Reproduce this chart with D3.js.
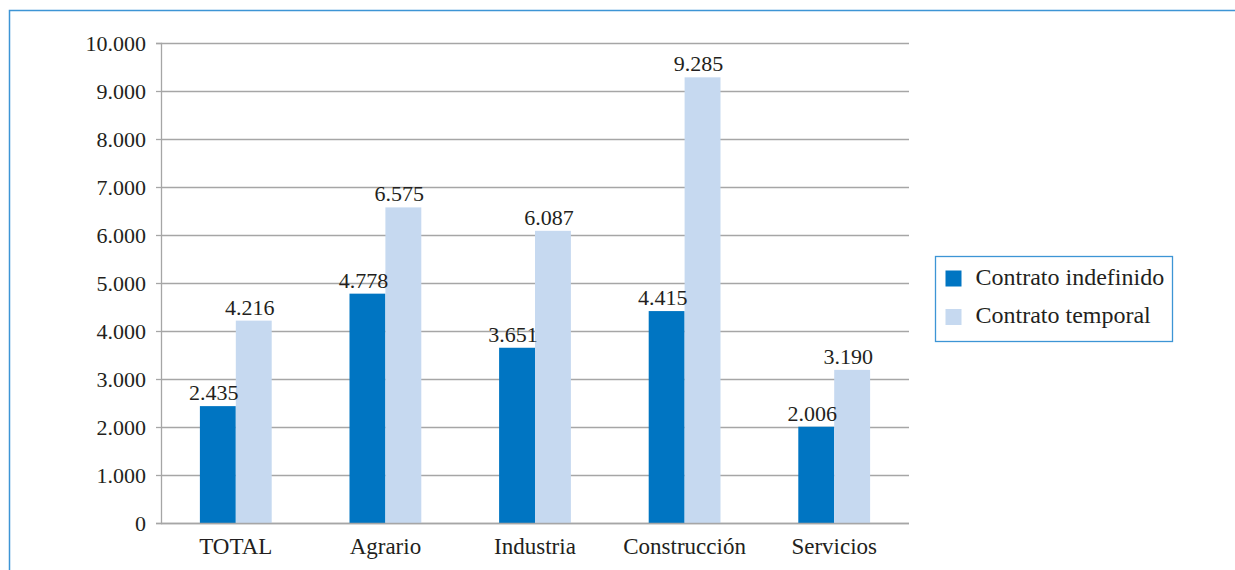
<!DOCTYPE html>
<html>
<head>
<meta charset="utf-8">
<script src="https://cdn.jsdelivr.net/npm/d3@7"></script>
<style>
  body { margin: 0; background: #fff; }
  svg { display: block; }
</style>
</head>
<body>
<div id="vis"></div>
<script>
const FRAME_WIDTH = 1235;
const FRAME_HEIGHT = 570;
const MARGINS = {left: 161, right: 326, top: 43, bottom: 47};
const FONT = 'Liberation Serif';
const TEXT_COLOR = '#231f20';

const categories = ['TOTAL', 'Agrario', 'Industria', 'Construcción', 'Servicios'];
const seriesNames = ['Contrato indefinido', 'Contrato temporal'];
const indefinido = [2435, 4778, 3651, 4415, 2006];
const temporal = [4216, 6575, 6087, 9285, 3190];
const yTicks = [0, 1000, 2000, 3000, 4000, 5000, 6000, 7000, 8000, 9000, 10000];

const COLORS = ['#0075c2', '#c6d9f0'];

const VIS_WIDTH = FRAME_WIDTH - MARGINS.left - MARGINS.right;
const VIS_HEIGHT = FRAME_HEIGHT - MARGINS.top - MARGINS.bottom;

const locale = d3.formatLocale({decimal: ',', thousands: '.', grouping: [3], currency: ['', '€']});
const fmt = locale.format(',d');

const rows = categories.map((c, i) => ({cat: c, vals: [indefinido[i], temporal[i]]}));

const svg = d3.select('#vis')
  .append('svg')
    .attr('width', FRAME_WIDTH)
    .attr('height', FRAME_HEIGHT)
    .attr('font-family', FONT);

// outer blue frame (only top and left visible)
svg.append('path')
  .attr('d', 'M9.5,' + FRAME_HEIGHT + ' V10.5 H' + FRAME_WIDTH)
  .attr('fill', 'none')
  .attr('stroke', '#3d95d5')
  .attr('stroke-width', 1.5);

const X = d3.scaleBand()
  .domain(categories)
  .range([0, VIS_WIDTH])
  .paddingInner(0.52)
  .paddingOuter(0.26);

const X_SUB = d3.scaleBand()
  .domain([0, 1])
  .range([0, X.bandwidth()]);

const Y = d3.scaleLinear()
  .domain([0, 10000])
  .range([VIS_HEIGHT, 0]);

const g = svg.append('g')
  .attr('transform', 'translate(' + MARGINS.left + ',' + MARGINS.top + ')');

// gridlines
g.append('g')
  .selectAll('line')
  .data(yTicks)
  .enter()
  .append('line')
    .attr('x1', 0)
    .attr('x2', VIS_WIDTH)
    .attr('y1', d => Math.round(Y(d)) + 0.5)
    .attr('y2', d => Math.round(Y(d)) + 0.5)
    .attr('stroke', '#a6a6a6')
    .attr('stroke-width', 1.3);

// y axis
const yAxis = g.append('g')
  .call(d3.axisLeft(Y).tickValues(yTicks).tickSize(5).tickPadding(10).tickFormat(fmt))
  .attr('font-family', FONT)
  .attr('font-size', 22);
yAxis.select('.domain').attr('stroke', '#a6a6a6').attr('stroke-width', 1.3);
yAxis.selectAll('.tick line').attr('stroke', '#a6a6a6').attr('stroke-width', 1.3);
yAxis.selectAll('text')
  .attr('font-family', FONT)
  .attr('font-size', 22)
  .attr('fill', TEXT_COLOR);

// bars
const groups = g.selectAll('.cat')
  .data(rows)
  .enter()
  .append('g')
    .attr('transform', d => 'translate(' + X(d.cat) + ',0)');

groups.selectAll('rect')
  .data(d => d.vals)
  .enter()
  .append('rect')
    .attr('x', (d, i) => X_SUB(i))
    .attr('y', d => Y(d))
    .attr('width', X_SUB.bandwidth())
    .attr('height', d => VIS_HEIGHT - Y(d))
    .attr('fill', (d, i) => COLORS[i]);

groups.selectAll('text')
  .data(d => d.vals)
  .enter()
  .append('text')
    .attr('x', (d, i) => X_SUB(i) + X_SUB.bandwidth() / 2 - 4)
    .attr('y', d => Y(d) - 6)
    .attr('text-anchor', 'middle')
    .attr('font-family', FONT)
    .attr('font-size', 22)
    .attr('fill', TEXT_COLOR)
    .text(d => fmt(d));

// x axis baseline
g.append('line')
  .attr('x1', 0)
  .attr('x2', VIS_WIDTH)
  .attr('y1', VIS_HEIGHT + 0.5)
  .attr('y2', VIS_HEIGHT + 0.5)
  .attr('stroke', '#a6a6a6')
  .attr('stroke-width', 1.3);

// category labels
g.selectAll('.catlabel')
  .data(categories)
  .enter()
  .append('text')
    .attr('x', d => X(d) + X.bandwidth() / 2)
    .attr('y', VIS_HEIGHT + 31)
    .attr('text-anchor', 'middle')
    .attr('font-family', FONT)
    .attr('font-size', 23)
    .attr('fill', TEXT_COLOR)
    .text(d => d);

// legend
const legend = svg.append('g')
  .attr('transform', 'translate(935.5,256.5)');

legend.append('rect')
  .attr('width', 237)
  .attr('height', 85)
  .attr('fill', '#fff')
  .attr('stroke', '#3d95d5')
  .attr('stroke-width', 1.3);

const items = legend.selectAll('.item')
  .data(seriesNames)
  .enter()
  .append('g')
    .attr('transform', (d, i) => 'translate(10,' + (14 + i * 38.5) + ')');

items.append('rect')
  .attr('width', 16)
  .attr('height', 16)
  .attr('fill', (d, i) => COLORS[i]);

items.append('text')
  .attr('x', 30)
  .attr('y', 14)
  .attr('font-family', FONT)
  .attr('font-size', 24)
  .attr('fill', TEXT_COLOR)
  .text(d => d);
</script>
</body>
</html>
